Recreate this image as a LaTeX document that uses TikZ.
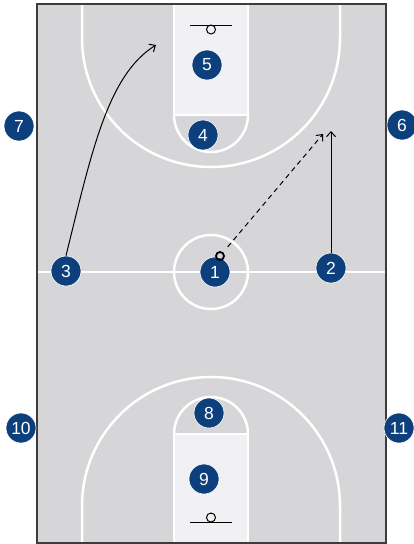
\documentclass[tikz,border=0pt]{standalone}
\usepackage{fontspec}
\setmainfont{Liberation Sans}
\usetikzlibrary{arrows.meta}
\definecolor{court}{HTML}{D6D6D8}
\definecolor{lane}{HTML}{F1F1F3}
\definecolor{pblue}{HTML}{0D3F7C}
\definecolor{edge}{HTML}{3C3C3C}
\tikzset{
  player/.style={circle, fill=pblue, draw=white, line width=0.6pt, minimum size=30pt, inner sep=0pt, text=white, font=\fontsize{17.5}{17.5}\selectfont},
  wline/.style={white, line width=2.5pt},
  mv/.style={black, line width=1pt, -{Straight Barb[length=5pt,width=9pt]}},
  pass/.style={mv, dash pattern=on 5pt off 4pt},
}
\begin{document}
\begin{tikzpicture}[x=1pt,y=-1pt]
\useasboundingbox (0,0) rectangle (414,544);
% court
\fill[court] (37,4) rectangle (386,543);
\fill[lane] (174,4) rectangle (248,115);
\fill[lane] (174,434) rectangle (248,543);
% top lines
\draw[wline] (174,4) -- (174,115) -- (248,115) -- (248,4);
\draw[wline] (174,115) arc[start angle=180, end angle=0, radius=37];
\draw[wline] (82,4) -- (82,38) arc[start angle=180, end angle=0, radius=129] -- (340,4);
% centre
\draw[wline] (37,272) -- (386,272);
\draw[wline] (211,272) circle[radius=37];
% bottom lines
\draw[wline] (174,543) -- (174,434) -- (248,434) -- (248,543);
\draw[wline] (174,434) arc[start angle=180, end angle=360, radius=37];
\draw[wline] (82,543) -- (82,506) arc[start angle=180, end angle=360, radius=129] -- (340,543);
% border
\draw[edge, line width=1.5pt] (37,4) rectangle (386,543);
% baskets
\draw[black, line width=1pt] (190,25) -- (232,25);
\draw[black, line width=1pt] (211,29.5) circle[radius=4.5];
\draw[black, line width=1pt] (190,522) -- (232,522);
\draw[black, line width=1pt] (211,517.5) circle[radius=4.5];
% players
\node[player] (p1) at (215,272) {1};
\node[player] (p2) at (331,268) {2};
\node[player] (p3) at (66,271) {3};
\node[player] (p4) at (203,135) {4};
\node[player] (p5) at (207,65) {5};
\node[player] (p6) at (402,125) {6};
\node[player] (p7) at (19,126) {7};
\node[player] (p8) at (209,413) {8};
\node[player] (p9) at (204,479) {9};
\node[player] (p10) at (21,428) {10};
\node[player] (p11) at (399,428) {11};
% ball
\node[circle, draw=black, line width=1.8pt, minimum size=8pt, inner sep=0pt] (ball) at (220,256) {};
% movement targets
\coordinate (t3) at (156,45);
\coordinate (t1) at (323,134);
\coordinate (t2) at (331,131);
\draw[mv] (p3.north) .. controls (92,150) and (108,75) .. (t3);
\draw[pass, shorten <=7pt] (ball) -- (t1);
\draw[mv] (p2.north) -- (t2);
\end{tikzpicture}
\end{document}
